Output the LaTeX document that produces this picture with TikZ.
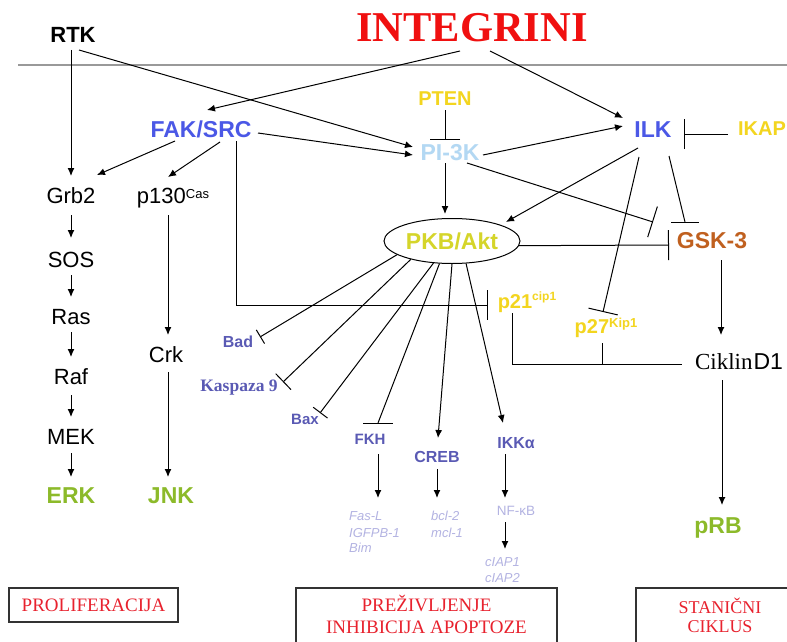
\documentclass[tikz,border=0pt]{standalone}
\usepackage{fontspec}
\setmainfont{Liberation Serif}
\setsansfont{Liberation Sans}
\usetikzlibrary{arrows.meta,calc,shapes.geometric}
\newcommand\fsz[1]{\fontsize{#1}{#1}\selectfont}
\newcommand\myup[3]{\raisebox{#1}{\fontsize{#2}{#2}\selectfont #3}}
\definecolor{cblue}{HTML}{4B58E6}
\definecolor{clblue}{HTML}{B3D8F3}
\definecolor{cyel}{HTML}{F3D51F}
\definecolor{cpkb}{HTML}{D5D52A}
\definecolor{cgsk}{HTML}{C0601F}
\definecolor{cgrn}{HTML}{8CBA2A}
\definecolor{cpur}{HTML}{5A5AB4}
\definecolor{clav}{HTML}{B3B3E2}
\definecolor{cred}{HTML}{F01010}
\definecolor{cbox}{HTML}{E8222E}
\begin{document}
\begin{tikzpicture}[x=1pt,y=-1pt,
  lab/.style={anchor=base, inner sep=0pt},
  sfb/.style={lab, font=\sffamily\bfseries\fsz{#1}},
  sfr/.style={lab, font=\sffamily\fsz{#1}},
  lst/.style={anchor=base west, inner sep=0pt, font=\sffamily\itshape\fsz{13}, text=clav},
  arr/.style={line width=1pt, -{Latex[length=8pt,width=7pt]}},
  inh/.style={line width=1pt, -{Bar[width=#1]}},
  ln/.style={line width=1pt},
  outbox/.style={draw=black!80, line width=1.4pt, text=cbox, font=\rmfamily\fsz{19}, inner sep=0pt, align=center}]
\useasboundingbox (0,0) rectangle (787,642);
\fill[white] (0,0) rectangle (787,642);
\clip (0,0) rectangle (787,642);

% membrane
\draw[line width=2pt, black!40] (18,65) -- (787,65);

% nodes
\node[lab, font=\rmfamily\bfseries\fsz{42.5}, text=cred] (integ) at (472,42) {INTEGRINI};
\node[sfb=22] (rtk) at (73,43) {RTK};
\node[sfb=23, text=cblue] (fak) at (201,137) {FAK/SRC};
\node[sfb=20, text=cyel] (pten) at (445,106) {PTEN};
\node[sfb=23, text=clblue] (pi3k) at (450,160) {PI-3K};
\node[sfb=23, text=cblue] (ilk) at (653,137) {ILK};
\node[sfb=20, text=cyel] (ikap) at (762,135) {IKAP};

\node[sfr=22] (grb2) at (71,203) {Grb2};
\node[sfr=22] (sos) at (71,267) {SOS};
\node[sfr=22] (ras) at (71,324) {Ras};
\node[sfr=22] (raf) at (71,384) {Raf};
\node[sfr=22] (mek) at (71,444) {MEK};
\node[sfb=23, text=cgrn] (erk) at (71,503) {ERK};
\node[sfr=22] (p130) at (173,203) {p130\myup{5pt}{13}{Cas}};
\node[sfr=22] (crk) at (166,362) {Crk};
\node[sfb=23, text=cgrn] (jnk) at (171,503) {JNK};

\node[ellipse, draw, line width=1pt, fill=white, minimum width=136pt, minimum height=45pt, inner sep=0pt, font=\sffamily\bfseries\fsz{23}, text=cpkb] (pkb) at (452,241) {PKB/Akt};
\node[sfb=23, text=cgsk] (gsk) at (712,248) {GSK-3};
\node[sfb=20, text=cyel] (p21) at (527,308) {p21\myup{8pt}{12}{cip1}};
\node[sfb=20, text=cyel] (p27) at (606,333) {p27\myup{6pt}{13}{Kip1}};
\node[lab, font=\fsz{23}] (ciklin) at (739,369) {\rmfamily Ciklin\hspace{1pt}\sffamily D1};
\node[sfb=23, text=cgrn] (prb) at (718,533) {pRB};

\node[sfb=16, text=cpur] (bad) at (238,347) {Bad};
\node[lab, font=\rmfamily\bfseries\fsz{17.5}, text=cpur] (kasp) at (239,391) {Kaspaza 9};
\node[sfb=15, text=cpur] (bax) at (305,424) {Bax};
\node[sfb=15, text=cpur] (fkh) at (370,444) {FKH};
\node[sfb=16, text=cpur] (creb) at (437,462) {CREB};
\node[sfb=16, text=cpur] (ikk) at (516,448) {IKKα};
\node[sfr=13.5, text=clav] (nfkb) at (516,515) {NF-κB};

\node[lst] (fasl1) at (349,520) {Fas-L};
\node[lst] (fasl2) at (349,537) {IGFPB-1};
\node[lst] (fasl3) at (349,552) {Bim};
\node[lst] (bcl1) at (431,520) {bcl-2};
\node[lst] (bcl2) at (431,537) {mcl-1};
\node[lst] (ciap1) at (485,566) {cIAP1};
\node[lst] (ciap2) at (485,582) {cIAP2};

\node[outbox, minimum width=169pt, minimum height=34pt] (prol) at (93.5,605) {PROLIFERACIJA};
\node[outbox, minimum width=261pt, minimum height=56pt] (prez) at (426.5,616)
  {\raisebox{0pt}[13pt][0pt]{PREŽIVLJENJE}\\[2.5pt]INHIBICIJA APOPTOZE};
\node[outbox, font=\rmfamily\fsz{18}, minimum width=168pt, minimum height=59pt] (stan) at (720,617.5)
  {\raisebox{0pt}[12pt][0pt]{STANIČNI}\\[1pt]CIKLUS};

% connectors from the top
\draw[arr] ($(integ.base)+(-12,9)$) -- ($(fak.base)+(6,-27)$);
\draw[arr] ($(integ.base)+(18,9)$) -- ($(ilk.base)+(-30,-19)$);
\draw[arr] ($(rtk.base)+(-2,7)$) -- ($(grb2.base)+(0,-27)$);
\draw[arr] ($(rtk.base)+(6,7)$) -- ($(pi3k.base)+(-37,-13)$);
\draw[arr] ($(fak.base)+(57,-4)$) -- ($(pi3k.base)+(-37,-5)$);
\draw[arr] ($(fak.base)+(-26,4)$) -- ($(grb2.base)+(26,-28)$);
\draw[arr] ($(fak.base)+(19,5)$) -- ($(p130.base)+(-5,-26)$);
\draw[inh=30pt] ($(fak.base)+(35,4)$) |- ($(p21.base)+(-39,-3)$);
\draw[inh=30pt] ($(pten.base)+(0,4)$) -- ($(pi3k.base)+(-5,-20)$);
\draw[arr] ($(pi3k.base)+(33,-5)$) -- ($(ilk.base)+(-30,-11)$);
\draw[arr] ($(pi3k.base)+(-5,3)$) -- ($(pkb.north)+(-7,-4)$);
\draw[inh=32pt] ($(pi3k.base)+(17,3)$) -- ($(gsk.base)+(-59,-26)$);
\draw[arr] ($(ilk.base)+(-15,11)$) -- ($(pkb.center)+(54,-19)$);
\draw[inh=30pt] ($(ilk.base)+(-14,20)$) -- ($(p27.base)+(-3,-21)$);
\draw[ln] ($(ilk.base)+(16,19)$) -- ($(gsk.base)+(-27,-26)$);
\draw[ln] ($(gsk.base)+(-41,-26)$) -- ++(28,0);
\draw[inh=30pt] ($(ikap.base)+(-34,-1)$) -- ($(ilk.base)+(31,-3)$);
\draw[inh=30pt] (pkb.-4) -- ($(gsk.base)+(-43,-3)$);

% left column
\draw[arr] ($(grb2.base)+(0,12)$) -- ($(sos.base)+(0,-29)$);
\draw[arr] ($(sos.base)+(0,8)$) -- ($(ras.base)+(0,-27)$);
\draw[arr] ($(ras.base)+(0,8)$) -- ($(raf.base)+(0,-27)$);
\draw[arr] ($(raf.base)+(0,11)$) -- ($(mek.base)+(0,-27)$);
\draw[arr] ($(mek.base)+(0,9)$) -- ($(erk.base)+(0,-26)$);
\draw[arr] ($(p130.base)+(-5,12)$) -- ($(crk.base)+(2,-27)$);
\draw[arr] ($(crk.base)+(2,10)$) -- ($(jnk.base)+(-3,-26)$);

% fan from PKB/Akt
\draw[inh=16pt] (pkb.194) -- ($(bad.base)+(22,-10)$);
\draw[inh=22pt] (pkb.204) -- ($(kasp.base)+(44,-9)$);
\draw[inh=18pt] (pkb.230) -- ($(bax.base)+(15,-11)$);
\draw[ln] (pkb.241) -- ($(fkh.base)+(8,-21)$);
\draw[ln] ($(fkh.base)+(-7,-21)$) -- ++(30,0);
\draw[arr] (pkb.270) -- ($(creb.base)+(1,-24)$);
\draw[arr] (pkb.302) -- ($(ikk.base)+(-13,-25)$);

\draw[arr] ($(fkh.base)+(8,10)$) -- ($(fasl1.base west)+(29,-22)$);
\draw[arr] ($(creb.base)+(0,7)$) -- ($(bcl1.base west)+(6,-22)$);
\draw[arr] ($(ikk.base)+(-11,6)$) -- ($(nfkb.base)+(-11,-17)$);
\draw[arr] ($(nfkb.base)+(-11,7)$) -- ($(ciap1.base west)+(20,-17)$);

% cell cycle
\draw[ln] ($(p21.base)+(-15,5)$) |- ($(ciklin.base)+(-57,-5)$);
\draw[ln] ($(p27.base)+(-4,10)$) -- ($(p27.base)+(-4,31)$);
\draw[arr] ($(gsk.base)+(9,12)$) -- ($(ciklin.base)+(-18,-34)$);
\draw[arr] ($(ciklin.base)+(-17,11)$) -- ($(prb.base)+(4,-28)$);
\end{tikzpicture}
\end{document}
